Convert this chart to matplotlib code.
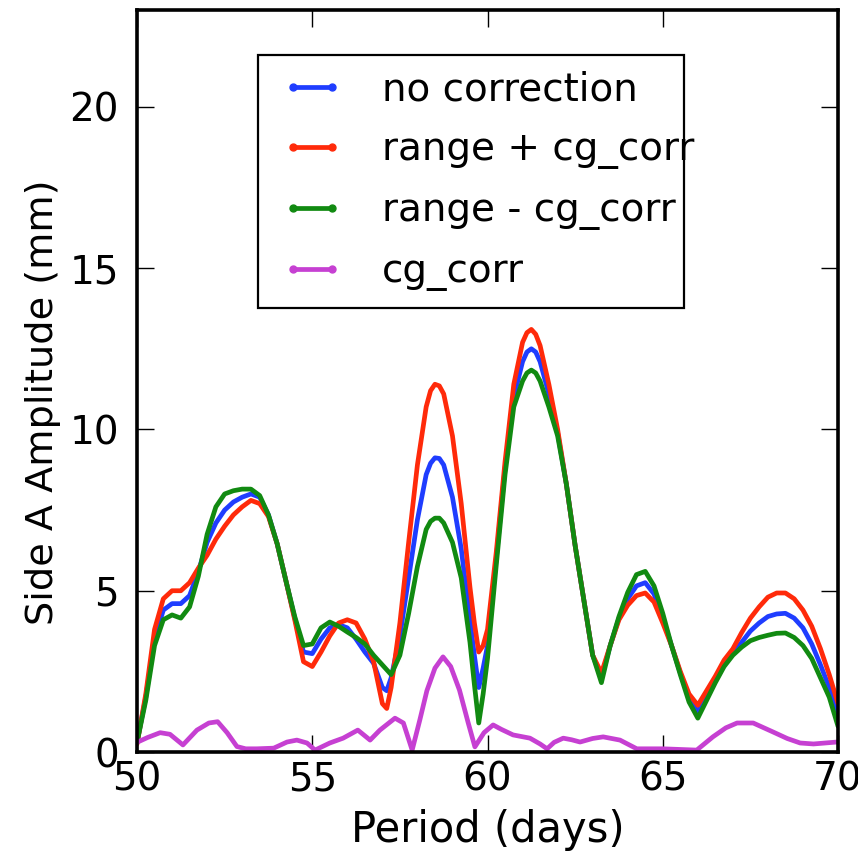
import matplotlib
matplotlib.use("Agg")
import matplotlib.pyplot as plt
from matplotlib.lines import Line2D
from matplotlib.patches import Rectangle

# periods (days) shared by the three range curves
period = [
    50.00, 50.25, 50.50, 50.75, 51.00, 51.25, 51.50, 51.75, 52.00, 52.25,
    52.50, 52.75, 53.00, 53.25, 53.50, 53.75, 54.00, 54.25, 54.50, 54.75,
    55.00, 55.25, 55.50, 55.75, 56.00, 56.25, 56.50, 56.75, 57.00, 57.125,
    57.25, 57.50, 57.75, 58.00, 58.25, 58.375, 58.50, 58.625, 58.75, 59.00,
    59.25, 59.50, 59.625, 59.75, 59.875, 60.00, 60.25, 60.50, 60.75, 61.00,
    61.125, 61.25, 61.375, 61.50, 61.75, 62.00, 62.25, 62.50, 62.75, 63.00,
    63.25, 63.50, 63.75, 64.00, 64.25, 64.50, 64.75, 65.00, 65.25, 65.50,
    65.75, 66.00, 66.25, 66.50, 66.75, 67.00, 67.25, 67.50, 67.75, 68.00,
    68.25, 68.50, 68.75, 69.00, 69.25, 69.50, 69.75, 70.00,
]

no_correction = [
    0.30, 1.70, 3.50, 4.40, 4.60, 4.60, 4.85, 5.60, 6.50, 7.10,
    7.50, 7.75, 7.90, 8.00, 7.90, 7.35, 6.45, 5.30, 4.15, 3.10,
    3.05, 3.50, 3.85, 3.95, 3.85, 3.50, 3.10, 2.75, 2.00, 1.90,
    2.30, 3.60, 5.40, 7.20, 8.60, 8.95, 9.12, 9.10, 8.90, 7.90,
    6.30, 4.10, 3.00, 2.00, 2.60, 3.30, 6.00, 8.80, 11.00, 12.10,
    12.40, 12.50, 12.40, 12.10, 11.10, 9.90, 8.30, 6.40, 4.70, 3.00,
    2.30, 3.30, 4.15, 4.75, 5.15, 5.25, 4.90, 4.15, 3.30, 2.45,
    1.65, 1.25, 1.70, 2.20, 2.70, 3.05, 3.40, 3.75, 4.00, 4.20,
    4.28, 4.30, 4.15, 3.85, 3.35, 2.70, 2.00, 1.10,
]

range_plus = [
    0.25, 1.80, 3.80, 4.75, 5.00, 5.00, 5.25, 5.70, 6.10, 6.60,
    7.00, 7.35, 7.60, 7.80, 7.70, 7.30, 6.45, 5.30, 4.10, 2.80,
    2.65, 3.10, 3.60, 4.00, 4.10, 4.00, 3.50, 2.80, 1.50, 1.35,
    2.00, 4.00, 6.50, 8.90, 10.70, 11.20, 11.40, 11.35, 11.10, 9.80,
    7.70, 5.10, 4.00, 3.10, 3.30, 3.80, 6.20, 9.00, 11.40, 12.70,
    13.00, 13.10, 12.95, 12.60, 11.40, 10.00, 8.30, 6.40, 4.70, 3.00,
    2.45, 3.30, 4.10, 4.55, 4.85, 4.93, 4.65, 4.00, 3.30, 2.50,
    1.80, 1.45, 1.90, 2.35, 2.85, 3.20, 3.70, 4.15, 4.50, 4.80,
    4.93, 4.93, 4.75, 4.40, 3.90, 3.20, 2.40, 1.50,
]

range_minus = [
    0.30, 1.60, 3.30, 4.10, 4.25, 4.15, 4.50, 5.45, 6.75, 7.60,
    8.00, 8.10, 8.15, 8.15, 7.95, 7.35, 6.45, 5.30, 4.20, 3.30,
    3.35, 3.85, 4.03, 3.90, 3.72, 3.55, 3.35, 3.00, 2.70, 2.55,
    2.40, 3.00, 4.30, 5.75, 6.90, 7.15, 7.25, 7.25, 7.10, 6.50,
    5.40, 3.40, 2.10, 0.90, 1.80, 2.90, 5.80, 8.60, 10.70, 11.50,
    11.75, 11.84, 11.75, 11.50, 10.70, 9.80, 8.30, 6.40, 4.70, 3.00,
    2.15, 3.30, 4.20, 4.95, 5.50, 5.60, 5.15, 4.30, 3.30, 2.40,
    1.55, 1.05, 1.60, 2.15, 2.65, 3.00, 3.25, 3.45, 3.55, 3.62,
    3.68, 3.69, 3.55, 3.30, 2.90, 2.30, 1.70, 0.80,
]

# cg_corr has its own, denser sampling around the sharp dips
cg_period = [
    50.00, 50.30, 50.66, 50.94, 51.31, 51.71, 52.05, 52.30, 52.57, 52.85,
    53.10, 53.42, 53.90, 54.28, 54.56, 54.85, 55.08, 55.50, 55.88, 56.30,
    56.65, 56.93, 57.36, 57.60, 57.85, 58.07, 58.27, 58.50, 58.73, 58.95,
    59.20, 59.45, 59.64, 59.90, 60.16, 60.40, 60.73, 61.21, 61.50, 61.70,
    61.90, 62.16, 62.40, 62.64, 63.00, 63.30, 63.78, 64.26, 65.00, 65.97,
    66.43, 66.80, 67.12, 67.58, 68.15, 68.55, 68.92, 69.30, 69.97, 70.00,
]

cg_corr = [
    0.30, 0.45, 0.60, 0.55, 0.22, 0.68, 0.90, 0.94, 0.60, 0.17,
    0.10, 0.10, 0.12, 0.31, 0.37, 0.28, 0.06, 0.28, 0.43, 0.68,
    0.37, 0.68, 1.05, 0.90, 0.06, 1.00, 1.90, 2.60, 2.95, 2.65,
    1.92, 0.90, 0.16, 0.60, 0.84, 0.70, 0.53, 0.43, 0.25, 0.10,
    0.30, 0.43, 0.38, 0.31, 0.42, 0.47, 0.37, 0.10, 0.10, 0.06,
    0.47, 0.75, 0.90, 0.90, 0.62, 0.42, 0.28, 0.25, 0.31, 0.31,
]

labels = ["no correction", "range + cg_corr", "range - cg_corr", "cg_corr"]
colors = ["#1f3dff", "#ff2a0a", "#118a11", "#c640d2"]

plt.rcParams["font.family"] = ["DejaVu Sans"]
plt.rcParams["font.size"] = 28

fig = plt.figure(figsize=(8.58, 8.51), dpi=100)
ax = fig.add_axes([0.1597, 0.1163, 0.8170, 0.8719])

lw = 3.4
style = dict(lw=lw, solid_joinstyle="round", solid_capstyle="round")
ax.plot(period, no_correction, color=colors[0], **style)
ax.plot(period, range_plus, color=colors[1], **style)
ax.plot(period, range_minus, color=colors[2], **style)
ax.plot(cg_period, cg_corr, color=colors[3], **style)

ax.set_xlim(50, 70)
ax.set_ylim(0, 23)
ax.set_xticks([50, 55, 60, 65, 70])
ax.set_yticks([0, 5, 10, 15, 20])

for side in ax.spines.values():
    side.set_linewidth(2.6)

ax.tick_params(axis="both", which="major", direction="in", length=12,
               width=1.0, top=True, right=True, labelsize=28)
ax.tick_params(axis="x", pad=6)
ax.tick_params(axis="y", pad=13)

ax.set_xlabel("Period (days)", fontsize=30, labelpad=8)
ax.set_ylabel("Side A Amplitude (mm)", fontsize=27.5)
ax.yaxis.set_label_coords(-0.108, 0.472)

# legend box is drawn as its own patch; the long labels run slightly past it
box = Rectangle((0.1726, 0.5984), 0.6077, 0.3410, transform=ax.transAxes,
                facecolor="white", edgecolor="black", lw=1.6, zorder=4.5)
ax.add_patch(box)

handles = [Line2D([0], [0], color=c, lw=lw, marker=".", markersize=10)
           for c in colors]
leg = ax.legend(handles, labels, loc="upper left",
                bbox_to_anchor=(0.1726, 0.950), borderaxespad=0,
                numpoints=2, handlelength=1.6, handletextpad=0.98,
                labelspacing=0.565, borderpad=0.6, frameon=False,
                fontsize=28)
leg.set_zorder(5)

fig.savefig("out.png", dpi=100, facecolor="white")
